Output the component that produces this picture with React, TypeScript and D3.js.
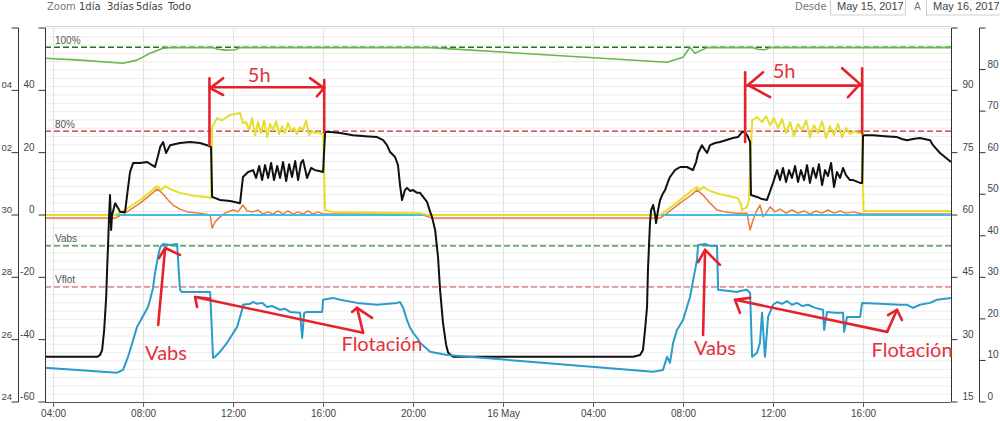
import React from "react";
import * as d3 from "d3";

// time is in hours counted from 15 May 2017 00:00, values on the left axis scale
const BASE = Date.UTC(2017, 4, 15);
const toDate = (h: number) => new Date(BASE + h * 3600 * 1000);

const timeDomain = [3.64, 43.91];
const timeTicks = [4, 8, 12, 16, 20, 24, 28, 32, 36, 40];
const leftTicks = [-60, -40, -20, 0, 20, 40, 60];
const farLeftLabels = ["24", "26", "28", "30", "02", "04"];
const right1Ticks = [15, 30, 45, 60, 75, 90, 105];
const right2Ticks = [0, 10, 20, 30, 40, 50, 60, 70, 80, 90];
const navButtons = ["Zoom", "1día", "3días", "5días", "Todo"];
const dateRange = ["May 15, 2017", "May 16, 2017"];

const refNames = ["100%", "80%", "Vabs", "Vflot"];
const refValues = [53.8, 26.9, -9.9, -23.1];

type P = [number, number];

const green: P[] = [
  [3.64, 50.3], [5.2, 49.7], [7.11, 48.7], [7.73, 49.7], [8.31, 51.9], [8.89, 53.5], [9.2, 53.7],
  [11.11, 53.7], [11.33, 53.2], [11.64, 52.9], [12.09, 53.0], [12.31, 53.7], [20.76, 53.7],
  [31.29, 49.0], [32.0, 50.6], [32.31, 53.8], [32.53, 51.9], [33.07, 53.7], [35.11, 53.7],
  [35.33, 53.2], [35.64, 53.0], [35.87, 53.7], [43.91, 53.7],
];

const black: P[] = [
  [3.64, -45.5], [5.96, -45.5], [6.09, -44.9], [6.18, -43.3], [6.27, -36.9], [6.36, -26.3], [6.4, -17.6],
  [6.44, -10.3], [6.49, 0], [6.53, 6.4], [6.58, -4.8], [6.62, 0], [6.76, 3.8], [6.89, 2.2], [6.98, 1.0],
  [7.2, 1.0], [7.29, 6.4], [7.42, 13.8], [7.56, 16.7], [7.87, 16.7], [8.18, 17.0], [8.4, 16.0],
  [8.53, 15.4], [8.67, 19.2], [8.76, 21.8], [8.89, 23.4], [9.02, 19.9], [9.2, 22.4], [9.64, 23.1],
  [10.09, 23.4], [10.53, 23.1], [10.84, 22.4], [11.02, 21.8], [11.07, 5.8], [11.42, 4.8], [11.87, 4.5],
  [12.31, 3.8], [12.44, 12.2], [12.67, 13.8], [12.89, 14.4], [13.02, 11.9], [13.16, 15.7], [13.29, 11.2],
  [13.42, 16.0], [13.56, 11.9], [13.69, 16.7], [13.82, 11.2], [13.96, 15.7], [14.09, 11.9], [14.22, 17.0],
  [14.36, 10.9], [14.49, 16.3], [14.62, 12.2], [14.76, 17.3], [14.89, 11.2], [15.02, 16.7], [15.11, 17.6],
  [15.29, 11.9], [15.47, 15.1], [15.64, 14.4], [15.82, 14.1], [16.0, 13.8], [16.09, 26.6], [16.31, 26.6],
  [16.76, 26.3], [17.33, 25.6], [17.87, 25.3], [18.4, 25.0], [18.67, 24.0], [18.84, 22.4], [18.98, 20.2],
  [19.2, 18.6], [19.33, 16.0], [19.42, 9.6], [19.51, 4.8], [19.64, 8.0], [19.73, 8.7], [19.87, 7.7],
  [20.0, 8.0], [20.18, 7.1], [20.31, 7.1], [20.49, 5.4], [20.62, 4.2], [20.76, 1.0], [20.84, -0.6],
  [20.98, -4.8], [21.11, -13.5], [21.2, -24.0], [21.33, -34.6], [21.47, -41.7], [21.56, -44.2],
  [21.78, -45.5], [29.78, -45.5], [30.09, -44.9], [30.22, -43.3], [30.31, -36.9], [30.4, -29.5],
  [30.44, -17.6], [30.53, -2.6], [30.58, 1.6], [30.67, 3.2], [30.76, 0], [30.8, -2.6], [30.89, 1.6],
  [30.98, 4.8], [31.07, 6.4], [31.2, 8.0], [31.33, 10.6], [31.42, 12.2], [31.64, 14.4], [31.87, 15.4],
  [32.18, 15.4], [32.44, 14.4], [32.58, 17.0], [32.67, 19.9], [32.84, 22.4], [32.98, 20.8], [33.07, 19.9],
  [33.2, 22.4], [33.42, 23.1], [33.64, 23.4], [34.22, 24.7], [34.44, 25.0], [34.62, 26.6], [34.76, 26.6],
  [34.89, 25.0], [34.98, 23.4], [35.02, 6.4], [35.29, 5.8], [35.51, 5.1], [35.73, 4.8], [36.0, 10.3],
  [36.18, 14.4], [36.31, 11.2], [36.44, 15.1], [36.58, 10.6], [36.71, 14.4], [36.84, 11.9], [36.98, 15.7],
  [37.11, 10.6], [37.24, 14.4], [37.38, 11.2], [37.51, 16.0], [37.64, 10.3], [37.78, 15.1], [37.91, 11.9],
  [38.04, 16.3], [38.18, 9.6], [38.31, 14.4], [38.44, 12.5], [38.58, 16.7], [38.71, 9.0], [38.84, 13.8],
  [38.98, 11.9], [39.11, 15.1], [39.24, 12.8], [39.42, 11.2], [39.56, 11.2], [39.87, 10.3], [39.96, 10.3],
  [40.0, 25.6], [40.44, 25.6], [40.98, 25.3], [41.51, 25.0], [41.73, 24.4], [41.96, 24.0], [42.22, 24.4],
  [42.53, 24.7], [42.98, 24.0], [43.11, 22.4], [43.42, 19.9], [43.64, 18.6], [43.91, 17.0],
];

const yellow: P[] = [
  [3.64, 0], [6.76, 0], [7.2, 1.6], [7.87, 4.8], [8.31, 7.4], [8.62, 9.3], [8.8, 8.0], [8.98, 9.3],
  [9.29, 8.0], [9.64, 7.1], [10.31, 6.1], [10.84, 5.8], [11.02, 5.4], [11.07, 28.2], [11.29, 31.1],
  [11.51, 30.4], [11.87, 32.1], [12.09, 32.4], [12.31, 32.7], [12.44, 29.5], [12.58, 29.8], [12.71, 27.2],
  [12.84, 31.1], [12.98, 25.6], [13.11, 29.8], [13.24, 26.3], [13.38, 30.4], [13.51, 25.0], [13.64, 29.2],
  [13.78, 27.2], [13.91, 30.1], [14.04, 26.0], [14.18, 28.5], [14.31, 26.3], [14.44, 29.5], [14.58, 26.9],
  [14.71, 27.9], [14.84, 26.0], [14.98, 28.2], [15.11, 27.2], [15.24, 30.4], [15.38, 25.6], [15.51, 26.9],
  [15.64, 26.3], [15.78, 26.6], [15.91, 26.0], [16.0, 26.3], [16.09, 1.6], [16.44, 1.0], [20.31, 0.6],
  [20.67, 0], [30.98, 0], [31.29, 1.6], [31.87, 4.8], [32.31, 7.4], [32.62, 9.0], [32.76, 8.0],
  [32.89, 9.0], [33.2, 7.7], [33.64, 6.7], [34.22, 5.8], [34.44, 5.4], [34.58, 3.2], [34.62, 1.6],
  [34.76, 2.2], [34.84, 2.6], [34.93, 4.8], [35.07, 30.4], [35.29, 31.4], [35.51, 29.8], [35.69, 31.7],
  [35.87, 28.8], [36.04, 31.1], [36.22, 27.9], [36.4, 30.8], [36.58, 26.3], [36.76, 29.8], [36.93, 25.3],
  [37.11, 29.2], [37.29, 27.2], [37.47, 30.4], [37.64, 25.0], [37.82, 28.8], [38.0, 26.3], [38.18, 30.1],
  [38.36, 24.7], [38.53, 28.5], [38.71, 25.6], [38.89, 29.2], [39.07, 25.0], [39.24, 27.9], [39.42, 26.0],
  [39.6, 26.9], [39.78, 26.3], [39.96, 26.3], [40.02, 1.3], [43.91, 1.3],
];

const orange: P[] = [
  [3.64, -1.0], [6.76, -1.0], [7.2, 0.6], [7.87, 3.8], [8.31, 6.4], [8.62, 8.3], [8.84, 7.1], [9.11, 4.8],
  [9.33, 3.2], [9.64, 1.9], [9.96, 1.0], [10.53, 0.6], [10.98, 0], [11.07, -4.2], [11.2, -2.2],
  [11.42, -0.6], [11.64, 0.6], [11.87, 1.3], [12.0, 1.6], [12.22, 1.0], [12.44, 3.2], [12.62, 1.3],
  [12.89, 1.0], [13.11, 1.6], [13.33, 0.3], [13.56, 1.0], [13.78, 0.3], [14.0, 1.3], [14.22, 0.3],
  [14.44, 1.3], [14.67, 0.3], [14.89, 1.0], [15.11, 0.3], [15.33, 1.3], [15.56, 0.3], [15.78, 1.0],
  [16.0, 0.3], [16.31, 0.3], [20.31, 0.3], [20.84, -1.0], [30.98, -1.0], [31.29, 0.6], [31.87, 3.8],
  [32.31, 6.1], [32.62, 8.0], [32.89, 6.4], [33.2, 3.8], [33.51, 1.6], [33.87, 1.0], [34.31, 0.6],
  [34.84, 0.6], [34.98, -4.8], [35.11, -1.6], [35.29, 1.6], [35.42, 3.2], [35.56, -0.6], [35.73, 1.0],
  [35.87, 2.6], [36.09, 1.0], [36.31, 1.9], [36.58, 0.6], [36.84, 1.6], [37.11, 0.6], [37.38, 1.3],
  [37.64, 0.3], [37.91, 1.3], [38.18, 0.6], [38.44, 1.6], [38.71, 0.6], [38.98, 1.3], [39.24, 0.6],
  [39.56, 1.0], [39.96, 0.3], [43.91, 0.3],
];

const cyan: P[] = [[3.64, 0], [43.91, 0]];

const blue: P[] = [
  [3.64, -49.0], [6.84, -50.6], [7.11, -49.7], [7.33, -45.5], [7.56, -40.1], [7.73, -35.9], [8.0, -32.4],
  [8.22, -29.5], [8.31, -27.2], [8.44, -23.4], [8.53, -18.6], [8.67, -13.1], [8.76, -10.3], [8.89, -9.3],
  [9.2, -9.6], [9.51, -9.3], [9.64, -24.0], [9.73, -24.7], [10.98, -24.7], [11.11, -45.8], [11.2, -45.5],
  [11.42, -43.9], [11.73, -41.0], [12.18, -35.9], [12.4, -30.4], [12.44, -28.8], [12.76, -28.5],
  [12.89, -27.9], [13.07, -28.5], [13.29, -28.2], [13.51, -29.5], [13.73, -29.2], [14.09, -30.4],
  [14.31, -30.1], [14.53, -31.1], [14.98, -31.4], [15.07, -39.4], [15.16, -31.4], [15.29, -31.1],
  [15.96, -31.1], [16.0, -27.2], [16.44, -26.6], [16.76, -27.2], [17.51, -28.2], [18.4, -28.8],
  [19.29, -28.2], [19.42, -27.9], [19.56, -29.8], [19.73, -33.7], [19.87, -36.2], [20.0, -37.8],
  [20.18, -39.4], [20.31, -41.0], [20.76, -43.9], [21.51, -44.9], [30.67, -50.3], [31.11, -49.7],
  [31.29, -45.5], [31.42, -47.4], [31.56, -41.0], [31.73, -36.9], [32.0, -33.7], [32.31, -26.3],
  [32.62, -14.4], [32.67, -9.6], [32.98, -9.3], [33.2, -9.9], [33.51, -9.9], [33.56, -24.0], [34.4, -24.7],
  [34.53, -24.4], [34.84, -24.0], [34.98, -25.0], [35.07, -45.5], [35.29, -44.2], [35.42, -41.0],
  [35.51, -31.4], [35.64, -45.5], [35.78, -32.7], [35.96, -29.5], [36.0, -28.8], [36.18, -27.9],
  [36.4, -28.5], [36.62, -27.6], [36.84, -28.8], [37.07, -28.2], [37.29, -29.2], [37.56, -28.8],
  [37.87, -29.8], [38.22, -30.4], [38.27, -36.9], [38.4, -31.1], [38.76, -31.4], [39.11, -31.4],
  [39.16, -37.5], [39.29, -32.7], [39.87, -32.7], [39.96, -28.2], [40.76, -28.5], [41.64, -28.8],
  [41.96, -28.8], [42.22, -29.8], [42.53, -28.8], [42.98, -28.2], [43.29, -27.2], [43.91, -26.6],
];

// hand drawn red marks, in the same time / value units
const markLines: P[][] = [
  [[10.95, 43.9], [10.95, 22.4]],
  [[16.05, 43.3], [16.05, 26.6]],
  [[10.95, 41.0], [16.05, 41.0]],
  [[11.56, 43.9], [10.98, 40.7], [11.56, 38.5]],
  [[15.42, 43.9], [16.04, 40.7], [15.73, 38.1]],
  [[34.76, 45.8], [34.76, 23.4]],
  [[39.96, 47.1], [39.96, 26.3]],
  [[34.76, 41.5], [39.96, 41.5]],
  [[35.56, 45.8], [34.89, 41.7], [35.87, 37.8]],
  [[39.07, 47.1], [39.87, 42.0], [39.33, 37.8]],
  [[8.67, -35.3], [8.98, -10.6]],
  [[8.71, -13.8], [8.98, -10.6], [9.64, -12.8]],
  [[17.78, -37.8], [10.31, -26.3]],
  [[10.4, -29.5], [10.31, -26.3], [10.98, -26.9]],
  [[17.78, -37.8], [17.51, -29.8]],
  [[17.29, -31.1], [17.51, -29.8], [18.18, -33.0]],
  [[32.89, -38.5], [32.98, -11.2]],
  [[32.67, -15.1], [32.98, -11.2], [33.64, -16.0]],
  [[41.07, -37.5], [34.31, -27.2]],
  [[34.53, -31.4], [34.31, -27.2], [34.98, -26.6]],
  [[41.07, -37.5], [41.51, -30.4]],
  [[41.11, -32.1], [41.51, -30.4], [41.73, -33.7]],
];
const markTexts = ["5h", "5h", "Vabs", "Flotación", "Vabs", "Flotación"];
const markAt: P[] = [[13.16, 42.6], [36.49, 43.9], [9.02, -46.5], [18.62, -43.6], [33.42, -44.9], [42.18, -45.5]];

const plot = { left: 45, right: 951, top: 28, bottom: 402 };

export default function App() {
  const x = d3.scaleUtc().domain(timeDomain.map(toDate)).range([plot.left, plot.right]);
  const yL = d3.scaleLinear().domain([-60, 60]).range([plot.bottom, plot.top]);
  const yR1 = d3.scaleLinear().domain([15, 105]).range([plot.bottom, plot.top]);
  const yR2 = d3.scaleLinear().domain([0, 90]).range([plot.bottom, plot.top]);
  const line = d3.line<P>().x((d) => x(toDate(d[0]))).y((d) => yL(d[1]));
  const fmtTick = (h: number) => {
    const t = toDate(h);
    return t.getUTCHours() === 0 ? d3.utcFormat("%-d %b")(t) : d3.utcFormat("%H:%M")(t);
  };

  const axisFont = "Liberation Sans, Arial, sans-serif";
  const axisColor = "#444";
  const refStyle = [
    { color: "#2a6e2a", width: 1.4 },
    { color: "#c9212f", width: 1.4 },
    { color: "#2f8a2f", width: 1.4 },
    { color: "#d24a4a", width: 1 },
  ];
  const series: { d: P[]; color: string; w: number }[] = [
    { d: green, color: "#66b84a", w: 1.6 },
    { d: orange, color: "#ea7a3c", w: 1.5 },
    { d: cyan, color: "#3fbde3", w: 2 },
    { d: yellow, color: "#e4df2c", w: 2 },
    { d: black, color: "#111", w: 2 },
    { d: blue, color: "#2a9ccb", w: 2 },
  ];
  const navX = [47, 79, 107, 136, 168];

  return (
    <svg width={1000} height={421} style={{ display: "block", background: "#fff" }}>
      <style>{"body{margin:0;overflow:hidden}"}</style>

      {/* range selector bar */}
      {navButtons.map((b, i) => (
        <text key={b} x={navX[i]} y={10} fontSize={10} fontFamily="DejaVu Sans, sans-serif"
          fill={i === 0 ? "#777" : "#444"}>{b}</text>
      ))}
      <text x={795} y={10} fontSize={10} fontFamily="DejaVu Sans, sans-serif" fill="#777">Desde</text>
      <rect x={830.5} y={-1} width={75} height={16} fill="#fff" stroke="#cfcfcf" />
      <text x={837} y={10} fontSize={11} fontFamily={axisFont} fill="#444">{dateRange[0]}</text>
      <text x={914} y={10} fontSize={10} fontFamily="DejaVu Sans, sans-serif" fill="#777">A</text>
      <rect x={926.5} y={-1} width={80} height={16} fill="#fff" stroke="#cfcfcf" />
      <text x={933} y={10} fontSize={11} fontFamily={axisFont} fill="#444">{dateRange[1]}</text>

      {/* grid */}
      {d3.range(0, 91, 2).map((v) => (
        <line key={"g" + v} x1={plot.left} x2={plot.right} y1={yR2(v) + 0.5} y2={yR2(v) + 0.5}
          stroke="#ececec" />
      ))}
      {timeTicks.map((h) => (
        <line key={"v" + h} x1={x(toDate(h)) + 0.5} x2={x(toDate(h)) + 0.5} y1={plot.top} y2={plot.bottom}
          stroke="#e2e2e2" />
      ))}
      <line x1={plot.left} x2={plot.right} y1={plot.top - 1.5} y2={plot.top - 1.5} stroke="#d0d0d0" />

      {/* reference lines */}
      {refValues.map((v, i) => (
        <line key={"r" + i} x1={plot.left} x2={plot.right} y1={yL(v)} y2={yL(v)}
          stroke={refStyle[i].color} strokeWidth={refStyle[i].width} strokeDasharray="6,3" />
      ))}

      {/* series */}
      {series.map((s, i) => (
        <path key={"s" + i} d={line(s.d) ?? ""} fill="none" stroke={s.color} strokeWidth={s.w}
          strokeLinejoin="round" />
      ))}
      {refNames.map((n, i) => (
        <text key={"rl" + i} x={plot.left + 10} y={yL(refValues[i]) - 3.5} fontSize={10}
          fontFamily={axisFont} fill="#555">{n}</text>
      ))}

      {/* x axis */}
      <line x1={plot.left} x2={plot.right} y1={plot.bottom + 0.5} y2={plot.bottom + 0.5} stroke="#555" />
      {timeTicks.map((h) => (
        <g key={"xt" + h} transform={`translate(${x(toDate(h)) + 0.5},${plot.bottom})`}>
          <line y1={0} y2={5} stroke="#555" />
          <text y={15} textAnchor="middle" fontSize={10} fontFamily={axisFont} fill={axisColor}>
            {fmtTick(h)}
          </text>
        </g>
      ))}

      {/* far left axis */}
      <line x1={18.5} x2={18.5} y1={plot.top} y2={plot.bottom} stroke="#333" />
      {leftTicks.map((v, i) => (
        <g key={"fl" + v} transform={`translate(18.5,${yL(v)})`}>
          <line x1={-7} x2={0} stroke="#333" />
          {i < farLeftLabels.length && (
            <text x={-6.5} y={-2} textAnchor="end" fontSize={9.5} fontFamily={axisFont} fill={axisColor}>
              {farLeftLabels[i]}
            </text>
          )}
        </g>
      ))}

      {/* left axis */}
      <line x1={plot.left + 0.5} x2={plot.left + 0.5} y1={plot.top} y2={plot.bottom} stroke="#333" />
      {leftTicks.map((v) => (
        <g key={"l" + v} transform={`translate(${plot.left + 0.5},${yL(v)})`}>
          <line x1={-7} x2={0} stroke="#333" />
          {v !== 60 && (
            <text x={-11} y={-2} textAnchor="end" fontSize={10} fontFamily={axisFont} fill={axisColor}>
              {v}
            </text>
          )}
        </g>
      ))}

      {/* right axes */}
      <line x1={plot.right + 0.5} x2={plot.right + 0.5} y1={plot.top} y2={plot.bottom} stroke="#333" />
      {right1Ticks.map((v) => (
        <g key={"r1" + v} transform={`translate(${plot.right + 0.5},${yR1(v)})`}>
          <line x1={0} x2={6} stroke="#333" />
          {v !== 105 && (
            <text x={11} y={-2} fontSize={10} fontFamily={axisFont} fill={axisColor}>{v}</text>
          )}
        </g>
      ))}
      <line x1={979.5} x2={979.5} y1={plot.top} y2={plot.bottom} stroke="#333" />
      {right2Ticks.map((v) => (
        <g key={"r2" + v} transform={`translate(979.5,${yR2(v)})`}>
          <line x1={0} x2={6} stroke="#333" />
          {v !== 90 && (
            <text x={8} y={-2} fontSize={10} fontFamily={axisFont} fill={axisColor}>{v}</text>
          )}
        </g>
      ))}

      {/* red hand annotations */}
      {markLines.map((m, i) => (
        <path key={"m" + i} d={line(m) ?? ""} fill="none" stroke="#e5222c" strokeWidth={2.6}
          strokeLinecap="round" strokeLinejoin="round" />
      ))}
      {markTexts.map((t, i) => (
        <text key={"mt" + i} x={x(toDate(markAt[i][0]))} y={yL(markAt[i][1])} textAnchor="middle"
          fontSize={20} fontFamily="Lato, sans-serif" fill="#e2323c">{t}</text>
      ))}
    </svg>
  );
}
